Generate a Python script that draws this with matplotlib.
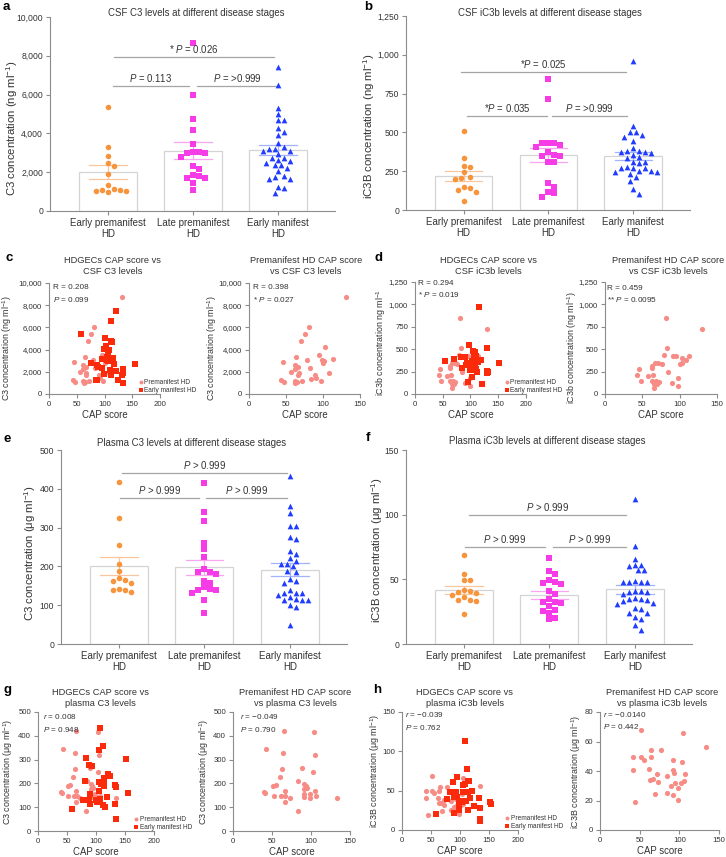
import numpy as np
import matplotlib
matplotlib.use("Agg")
import matplotlib.pyplot as plt
from matplotlib.ticker import FuncFormatter

plt.rcParams['font.family'] = ['Liberation Sans', 'DejaVu Sans']
plt.rcParams['mathtext.fontset'] = 'custom'
plt.rcParams['mathtext.rm'] = 'Liberation Sans'
plt.rcParams['mathtext.it'] = 'Liberation Sans:italic'

# ---- group data (bar + swarm panels) ----
groups = ["Early premanifest\nHD", "Late premanifest\nHD", "Early manifest\nHD"]

csf_c3_early = [5370, 3310, 2850, 2500, 2315, 1920, 1320, 1080, 1050, 995, 1050, 1060, 1130]
csf_c3_late = [8680, 5970, 4720, 4150, 3430, 3050, 3000, 2800, 3000, 3020, 2330, 2140, 1850,
               1820, 1680, 1680, 1420, 1060]
csf_c3_manifest = [7430, 6480, 5320, 4990, 4680, 4680, 4290, 4050, 3910, 3520, 3310, 3220, 3190,
                   3100, 3100, 2950, 2740, 2710, 2600, 2640, 2490, 2350, 2350, 2200, 2060, 1800,
                   1770, 1640, 1640, 1230, 1200, 940]

csf_ic3b_early = [508, 334, 279, 283, 242, 210, 208, 197, 150, 139, 129, 114, 58]
csf_ic3b_late = [845, 718, 431, 429, 429, 420, 405, 375, 354, 347, 350, 311, 309, 174, 150, 118, 109, 86]
csf_ic3b_manifest = [961, 540, 504, 504, 482, 472, 446, 401, 380, 375, 375, 382, 365, 354, 339, 336,
                     309, 309, 300, 279, 272, 268, 268, 253, 253, 247, 247, 232, 215, 184, 133, 103]

pl_c3_early = [418, 325, 255, 207, 188, 171, 163, 158, 164, 140, 133, 139, 141]
pl_c3_late = [415, 341, 316, 261, 245, 223, 194, 186, 180, 185, 163, 157, 147, 140, 138, 141, 132, 114, 79]
pl_c3_manifest = [434, 355, 337, 305, 305, 276, 270, 239, 231, 222, 215, 205, 207, 200, 189, 185, 167,
                  163, 157, 139, 132, 132, 126, 132, 120, 114, 114, 114, 115, 101, 95, 48]

pl_ic3b_early = [68.5, 54.4, 49.2, 49.2, 41.5, 40.0, 41.3, 38.2, 39.5, 36.4, 34.3, 33.5, 34.3, 23.3]
pl_ic3b_late = [66.4, 56.2, 54.4, 49.2, 47.2, 46.6, 47.6, 41.3, 38.4, 35.0, 32.5, 32.3, 32.0, 29.0,
                25.6, 24.3, 26.3, 19.2, 20.4]
pl_ic3b_manifest = [112, 76, 66, 61.3, 57, 57, 60, 61.3, 49, 48, 48, 47.6, 48, 41.3, 40.8, 40.3, 40.3,
                    39, 35.4, 34.3, 34.8, 33.5, 34.8, 31, 31.5, 27, 28, 24.3, 24.3, 21, 19.4, 14.7, 10.8]

# ---- CAP score scatter data ----
c_pre_cap = [131, 81.6, 75.3, 70.9, 102.7, 94.6, 64.1, 113, 79, 98.7, 101.8, 100.4, 45.3, 61.9, 65.9,
             61.9, 83, 56.5, 67.3, 108, 66.4, 89.7, 91, 84.3, 42.6, 47.5, 61.9, 65, 72.2, 97.8, 62.8]
c_pre_c3 = [8740, 6040, 5435, 4775, 4200, 3510, 3360, 3120, 3030, 3030, 2940, 2820, 2910, 2580, 2430,
            2220, 2370, 1980, 1860, 1920, 1680, 1680, 1440, 1380, 1230, 1110, 1170, 1080, 1170, 1140, 1020]
c_man_cap = [120.5, 111.4, 57.8, 101.2, 112, 113, 102.4, 98.2, 108.4, 106.6, 104.2, 114.5, 94.6, 104,
             106, 75.3, 117, 154.2, 86.7, 89, 95, 133, 110.2, 121, 132.5, 98.8, 112.6, 131.3, 87.3,
             85.5, 123.5, 132.5]
c_man_c3 = [7450, 6550, 5400, 5040, 4740, 4680, 4325, 4080, 3930, 3540, 3300, 3210, 3120, 3060, 3000,
            2790, 2700, 2700, 2580, 2400, 2340, 2280, 2130, 2070, 1860, 1770, 1710, 1680, 1290, 1290,
            1260, 960]

d_pre_cap = [81.3, 130.2, 83.1, 79.6, 91.1, 95.1, 112.9, 102.7, 108, 102.7, 100.4, 67.1, 71.6, 76,
             62.7, 62.7, 45.8, 84.9, 42.7, 57.3, 64.9, 98.2, 62.7, 47.6, 68, 72, 65.8, 69.8, 89.3, 98.2, 65.8]
d_pre_ic3b = [847, 720, 515, 433, 422, 429, 429, 399, 377, 343, 336, 347, 343, 336, 317, 287, 276, 243,
              216, 201, 216, 175, 149, 142, 149, 131, 116, 116, 119, 93, 63]
d_man_cap = [115, 97, 130, 105.4, 108.4, 106, 83.7, 89.8, 110, 71, 54.8, 102.4, 119, 113, 91, 97.6,
             103, 108.4, 151, 85, 98.2, 102.4, 107, 110, 129.5, 130, 131, 103, 95.2, 119.9, 94, 112]
d_man_ic3b = [966, 545, 509, 483, 465, 435, 410, 417, 421, 391, 373, 373, 384, 355, 326, 337, 326, 318,
              348, 289, 271, 267, 271, 278, 256, 238, 249, 194, 135, 113, 348, 245]

g_pre_cap = [65.4, 103.4, 42.7, 64.5, 104.7, 88.9, 63.2, 102.6, 59.8, 83.8, 91, 93.2, 51.3, 55.6, 94.4,
             90.6, 105.6, 39.7, 66.2, 40.6, 98.3, 90.6, 52.1, 61.9, 67, 91, 106.8, 72.6, 98.3, 133.8,
             66.2, 83.3]
g_pre_c3 = [419, 416, 345, 328, 319, 266, 259, 248, 227, 211, 196, 189, 190, 192, 182, 178, 169, 164,
            167, 160, 157, 154, 147, 147, 147, 143, 147, 139, 139, 139, 122, 84]
g_man_cap = [106.9, 112.6, 105.7, 151.4, 82.3, 88.6, 93.7, 120, 124.6, 113.7, 114.3, 81.1, 105.1, 108.6,
             113.1, 132.6, 133.7, 105.7, 89.7, 155.4, 77.1, 88.6, 100, 106.9, 118.3, 89.7, 101.1, 111.4,
             133.1, 115.4, 59.4, 134.9]
g_man_c3 = [434, 356, 339, 304, 307, 276, 272, 241, 232, 223, 213, 209, 206, 199, 189, 192, 186, 167,
            157, 161, 129, 129, 132, 133, 143, 115, 122, 111, 115, 101, 94, 52]

h_pre_cap = [52.3, 104.5, 134, 42.1, 51.8, 64.9, 77.1, 64.5, 56, 91.9, 41.3, 61.5, 91.9, 102.8, 92.8,
             72.1, 107, 63.6, 66.6, 73, 94.8, 102.4, 105.3, 84.3, 89.6, 98.2, 69, 83.9, 91.9, 98.2, 44.7]
h_pre_ic3b = [68.1, 66.1, 56.1, 49.7, 49.7, 54.2, 54.2, 49.2, 47.2, 47.2, 40.6, 41.1, 40.6, 46.3, 38.8,
              38.1, 38.1, 34.2, 34.6, 32.4, 32.1, 32.1, 33, 36.3, 29.5, 28.6, 24.3, 25.4, 23.4, 20.2, 19]
h_man_cap = [107.8, 112.4, 94.5, 113, 116, 88.2, 108.4, 105, 121, 113.5, 82.4, 93.4, 88.6, 106, 132.6,
             117.6, 90.5, 95, 77.8, 105, 109.5, 102.6, 99, 151.6, 153.8, 99, 124, 133.7, 99, 113.5,
             89.3, 59.4, 133.7, 133.7]
h_man_ic3b = [113.5, 77.3, 67.1, 62, 62.5, 61.2, 58.2, 57.4, 49.6, 48.9, 48.4, 48.9, 48, 48, 41.2, 40.8,
              42, 42, 39.1, 37, 36.5, 36.1, 35.7, 36.1, 33.1, 28.5, 30.2, 28.5, 25.5, 25.5, 22.1, 20, 14, 11.5]

# ---- colours ----
ORANGE, MAGENTA, BLUE = '#f7943c', '#f63ce6', '#1f3cff'
ORANGE_L, MAGENTA_L, BLUE_L = '#f9c59c', '#f8a6f0', '#a3b2fa'
PINK, RED = '#f78c86', '#fa2a0a'
AXC, TXT, SIGC = '#8c8c8c', '#333333', '#a5a5a5'

W, H = 726, 857
fig = plt.figure(figsize=(W / 100, H / 100), dpi=100)


def px_axes(l, r, t, b):
    ax = fig.add_axes([l / W, 1 - b / H, (r - l) / W, (b - t) / H])
    ax.box = (l, r, t, b)
    return ax


def ylabel_at(ax, text, cx, cy, size):
    l, r, t, b = ax.box
    ax.set_ylabel(text, fontsize=size, color=TXT)
    ax.yaxis.set_label_coords((cx - l) / (r - l), (b - cy) / (b - t))
    ax.yaxis.label.set_verticalalignment('center')


def style(ax, ymax, ystep, tsize):
    for s in ['top', 'right']:
        ax.spines[s].set_visible(False)
    for s in ['left', 'bottom']:
        ax.spines[s].set_color(AXC)
        ax.spines[s].set_linewidth(0.8)
    ax.tick_params(colors=AXC, labelcolor=TXT, labelsize=tsize, length=3, width=0.8, pad=2)
    ax.set_ylim(0, ymax)
    ax.set_yticks(np.arange(0, ymax + ystep / 2, ystep))
    ax.yaxis.set_major_formatter(FuncFormatter(lambda v, p: f"{int(round(v)):,}"))


def swarm(vals, ypx, xpx=85.0, gap=6.0):
    # simple beeswarm: place points from top down, nudge sideways on overlap
    vals = np.asarray(vals, float)
    offs = np.zeros(len(vals))
    placed = []
    for i in np.argsort(-vals):
        y = vals[i] * ypx
        k = 0
        while True:
            cands = [0.0] if k == 0 else [k * gap / 2, -k * gap / 2]
            ok = None
            for c in cands:
                if all(np.hypot(c - xo, y - yo) >= gap for xo, yo in placed):
                    ok = c
                    break
            if ok is not None:
                break
            k += 1
        placed.append((ok, y))
        offs[i] = ok / xpx
    return offs


def bar_panel(ax, data, ymax, ystep, ylabel, lab_xy, sigs):
    style(ax, ymax, ystep, 6.2)
    ypx = 194.0 / ymax
    specs = [(ORANGE, ORANGE_L, 'o', 16), (MAGENTA, MAGENTA_L, 's', 15), (BLUE, BLUE_L, '^', 17)]
    for i, (vals, (c, cl, mk, ms)) in enumerate(zip(data, specs)):
        vals = np.asarray(vals, float)
        m = vals.mean()
        se = vals.std(ddof=1) / np.sqrt(len(vals))
        ax.bar(i, m, width=0.68, color='white', edgecolor='#d4d4d4', linewidth=0.9, zorder=1)
        ax.scatter(i + swarm(vals, ypx), vals, s=ms, marker=mk, color=c, linewidths=0, zorder=3)
        ax.plot([i, i], [m - se, m + se], color=cl, lw=0.9, zorder=2)
        ax.plot([i - 0.22, i + 0.22], [m + se] * 2, color=cl, lw=0.9, zorder=2)
        ax.plot([i - 0.22, i + 0.22], [m - se] * 2, color=cl, lw=0.9, zorder=2)
    for x0, x1, y, txt in sigs:
        ax.plot([x0, x1], [y, y], color=SIGC, lw=0.9, zorder=2)
        ax.annotate(txt, ((x0 + x1) / 2, y), xytext=(0, 1.5), textcoords='offset points',
                    ha='center', va='bottom', fontsize=6.9, color=TXT)
    ax.set_xlim(-0.68, 2.67)
    ax.set_xticks([0, 1, 2])
    ax.set_xticklabels(groups, fontsize=7, linespacing=1.15)
    ylabel_at(ax, ylabel, lab_xy[0], lab_xy[1], 8.2)


def scatter_panel(ax, pre, man, xmax, ymax, ystep, ylabel, lab_xy, stats, stat_xy, leg_x=None):
    style(ax, ymax, ystep, 5.6)
    ax.scatter(pre[0], pre[1], s=14, marker='o', color=PINK, linewidths=0, zorder=3,
               label='Premanifest HD')
    if man is not None:
        ax.scatter(man[0], man[1], s=14, marker='s', color=RED, linewidths=0, zorder=3,
                   label='Early manifest HD')
    ax.set_xlim(0, xmax)
    ax.set_xticks(np.arange(0, xmax + 1, 50))
    ax.set_xlabel("CAP score", fontsize=6.9, color=TXT, labelpad=1.5)
    ylabel_at(ax, ylabel, lab_xy[0], lab_xy[1], 6.4)
    sx, sy = stat_xy
    ax.text(sx, sy, stats[0], transform=ax.transAxes, fontsize=5.9, color=TXT, va='center')
    ax.text(sx, sy - 0.104, stats[1], transform=ax.transAxes, fontsize=5.9, color=TXT, va='center')
    if leg_x is not None:
        ax.legend(loc='lower left', bbox_to_anchor=(leg_x, 0.0), frameon=False, fontsize=4.7,
                  handletextpad=0.1, labelspacing=0.15, borderpad=0, borderaxespad=0,
                  handlelength=0.9, markerscale=0.75, labelcolor=TXT)


def title(x, y, txt, size=6.9):
    fig.text(x / W, 1 - y / H, txt, ha='center', va='center', fontsize=size, color=TXT, linespacing=1.15)


def letter(x, y, s):
    fig.text(x / W, 1 - y / H, s, ha='left', va='center', fontsize=9.5, fontweight='bold')


# ---- a ----
ax = px_axes(50, 335, 17, 211)
bar_panel(ax, [csf_c3_early, csf_c3_late, csf_c3_manifest], 10000, 2000,
          "C3 concentration (ng ml$^{-1}$)", (12, 128),
          [(0.07, 1.95, 7940, r"* $P$ = 0.026"), (0.06, 0.95, 6450, r"$P$ = 0.113"),
           (1.05, 1.99, 6450, r"$P$ = >0.999")])
title(196, 13, "CSF C3 levels at different disease stages")
letter(3, 7, 'a')

# ---- b ----
ax = px_axes(406, 690, 16, 210)
bar_panel(ax, [csf_ic3b_early, csf_ic3b_late, csf_ic3b_manifest], 1250, 250,
          "iC3B concentration (ng ml$^{-1}$)", (369, 126),
          [(-0.03, 1.91, 890, r"*$P$ = 0.025"), (0.04, 0.98, 607, r"*$P$ = 0.035"),
           (1.04, 1.93, 607, r"$P$ = >0.999")])
title(550, 13, "CSF iC3b levels at different disease stages")
letter(364, 7, 'b')

# ---- c ----
ax = px_axes(49, 160, 283, 394)
scatter_panel(ax, (c_pre_cap, c_pre_c3), (c_man_cap, c_man_c3), 200, 10000, 2000,
              "C3 concentration (ng ml$^{-1}$)", (7, 348),
              ["R = 0.208", r"$P$ = 0.099"], (0.036, 0.955), 0.8)
title(113, 266, "HDGECs CAP score vs\nCSF C3 levels", 6.7)
ax = px_axes(249, 360, 283, 394)
scatter_panel(ax, (c_pre_cap, c_pre_c3), None, 150, 10000, 2000,
              "C3 concentration (ng ml$^{-1}$)", (212, 348),
              ["R = 0.398", r"* $P$ = 0.027"], (0.036, 0.955))
title(306, 266, "Premanifest HD CAP score\nvs CSF C3 levels", 6.7)
letter(6, 258, 'c')

# ---- d ----
ax = px_axes(415, 526, 282, 394)
scatter_panel(ax, (d_pre_cap, d_pre_ic3b), (d_man_cap, d_man_ic3b), 200, 1250, 250,
              "iC3b concentration ng ml$^{-1}$", (381, 342),
              ["R = 0.294", r"* $P$ = 0.019"], (0.027, 0.99), 0.8)
title(488, 266, "HDGECs CAP score vs\nCSF iC3b levels", 6.7)
ax = px_axes(605, 717, 282, 394)
scatter_panel(ax, (d_pre_cap, d_pre_ic3b), None, 150, 1250, 250,
              "iC3b concentration (ng ml$^{-1}$)", (572, 348),
              ["R = 0.459", r"** $P$ = 0.0095"], (0.02, 0.946))
title(668, 266, "Premanifest HD CAP score\nvs CSF iC3b levels", 6.7)
letter(375, 258, 'd')

# ---- e ----
ax = px_axes(61, 347, 450, 644)
bar_panel(ax, [pl_c3_early, pl_c3_late, pl_c3_manifest], 500, 100,
          "C3 concentration (μg ml$^{-1}$)", (30, 553),
          [(0.03, 1.97, 441, r"$P$ > 0.999"), (0.01, 0.94, 377, r"$P$ > 0.999"),
           (1.02, 1.97, 377, r"$P$ > 0.999")])
title(192, 443, "Plasma C3 levels at different disease stages")
letter(4, 439, 'e')

# ---- f ----
ax = px_axes(406, 692, 450, 644)
bar_panel(ax, [pl_ic3b_early, pl_ic3b_late, pl_ic3b_manifest], 150, 50,
          "iC3B concentration (μg ml$^{-1}$)", (377, 550),
          [(0.06, 1.9, 99.4, r"$P$ > 0.999"), (0.01, 0.95, 75, r"$P$ > 0.999"),
           (1.04, 1.9, 75, r"$P$ > 0.999")])
title(547, 441, "Plasma iC3b levels at different disease stages")
letter(366, 438, 'f')

# ---- g ----
ax = px_axes(38, 154, 712, 831)
scatter_panel(ax, (g_pre_cap, g_pre_c3), (g_man_cap, g_man_c3), 200, 500, 100,
              "C3 concentration (μg ml$^{-1}$)", (8, 772),
              [r"$r$ = 0.008", r"$P$ = 0.948"], (0.04, 0.958), 0.82)
title(100, 698, "HDGECs CAP score vs\nplasma C3 levels", 6.7)
ax = px_axes(233, 350, 712, 831)
scatter_panel(ax, (g_pre_cap, g_pre_c3), None, 150, 500, 100,
              "C3 concentration (μg ml$^{-1}$)", (204, 772),
              ["$r$ = \u22120.049", r"$P$ = 0.790"], (0.06, 0.958))
title(295, 698, "Premanifest HD CAP score\nvs plasma C3 levels", 6.7)
letter(4, 690, 'g')

# ---- h ----
ax = px_axes(402, 518, 712, 830)
scatter_panel(ax, (h_pre_cap, h_pre_ic3b), (h_man_cap, h_man_ic3b), 200, 150, 50,
              "iC3B concentration (μg ml$^{-1}$)", (375, 771),
              ["$r$ = \u22120.039", r"$P$ = 0.762"], (0.03, 0.975), 0.88)
title(465, 698, "HDGECs CAP score vs\nplasma iC3b levels", 6.7)
ax = px_axes(600, 719, 712, 830)
scatter_panel(ax, (h_pre_cap, h_pre_ic3b), None, 150, 80, 20,
              "iC3B concentration (μg ml$^{-1}$)", (576, 772),
              ["$r$ = \u22120.0140", r"$P$ = 0.442"], (0.025, 0.983))
title(662, 698, "Premanifest HD CAP score\nvs plasma iC3b levels", 6.7)
letter(373, 690, 'h')

fig.savefig("out.png", dpi=100)
